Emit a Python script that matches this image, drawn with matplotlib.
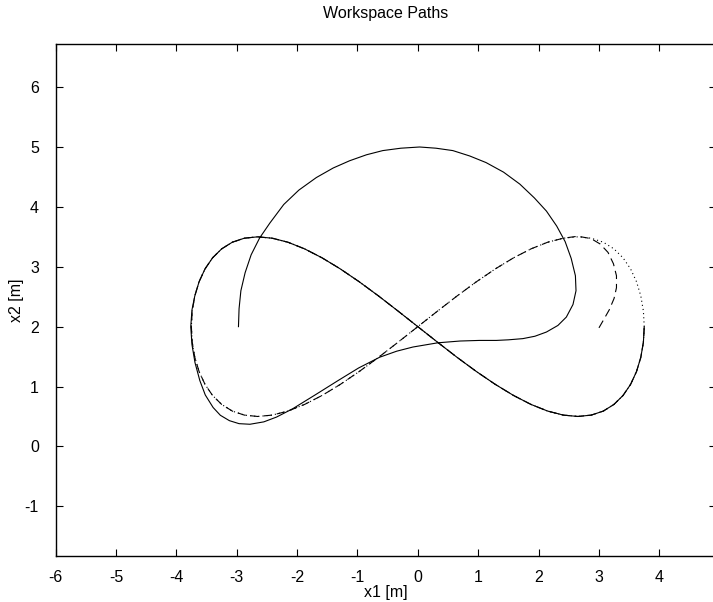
import matplotlib
matplotlib.use('Agg')
from matplotlib import pyplot as plt

# desired figure-eight path (dotted)
ref_x = [3.750, 3.736, 3.693, 3.622, 3.524, 3.399, 3.248, 3.072, 2.873, 2.652,
         2.410, 2.151, 1.875, 1.585, 1.283, 0.971, 0.651, 0.327, 0.000,
         -0.327, -0.651, -0.971, -1.283, -1.585, -1.875, -2.151, -2.410, -2.652,
         -2.873, -3.072, -3.248, -3.399, -3.524, -3.622, -3.693, -3.736, -3.750,
         -3.736, -3.693, -3.622, -3.524, -3.399, -3.248, -3.072, -2.873, -2.652,
         -2.410, -2.151, -1.875, -1.585, -1.283, -0.971, -0.651, -0.327, 0.000,
         0.327, 0.651, 0.971, 1.283, 1.585, 1.875, 2.151, 2.410, 2.652,
         2.873, 3.072, 3.248, 3.399, 3.524, 3.622, 3.693, 3.736, 3.750]
ref_y = [2.000, 2.260, 2.513, 2.750, 2.964, 3.149, 3.299, 3.410, 3.477, 3.500,
         3.477, 3.410, 3.299, 3.149, 2.964, 2.750, 2.513, 2.260, 2.000,
         1.740, 1.487, 1.250, 1.036, 0.851, 0.701, 0.590, 0.523, 0.500,
         0.523, 0.590, 0.701, 0.851, 1.036, 1.250, 1.487, 1.740, 2.000,
         2.260, 2.513, 2.750, 2.964, 3.149, 3.299, 3.410, 3.477, 3.500,
         3.477, 3.410, 3.299, 3.149, 2.964, 2.750, 2.513, 2.260, 2.000,
         1.740, 1.487, 1.250, 1.036, 0.851, 0.701, 0.590, 0.523, 0.500,
         0.523, 0.590, 0.701, 0.851, 1.036, 1.250, 1.487, 1.740, 2.000]

# dashed path: starts at (3, 2), joins the eight near the top-right lobe
dash_x = [3.00, 3.08, 3.17, 3.25, 3.29, 3.29, 3.24, 3.15, 3.02, 2.87, 2.65] + ref_x[10:]
dash_y = [1.98, 2.12, 2.28, 2.47, 2.65, 2.85, 3.05, 3.24, 3.38, 3.47, 3.51] + ref_y[10:]

# solid path: starts at (-3, 2), big loop, settles onto the eight on the left
solid_x = [-2.97, -2.96, -2.93, -2.86, -2.76, -2.62, -2.45, -2.22, -1.97, -1.68,
           -1.40, -1.13, -0.85, -0.58, -0.28, 0.03, 0.30, 0.58, 0.86, 1.13,
           1.42, 1.69, 1.93, 2.13, 2.30, 2.44, 2.54, 2.61, 2.62, 2.57,
           2.46, 2.32, 2.13, 1.94, 1.74, 1.50, 1.30, 1.02, 0.70, 0.33,
           -0.08, -0.35, -0.63, -0.98, -1.32, -1.70, -2.07, -2.34, -2.55, -2.78,
           -2.96, -3.12, -3.27, -3.39, -3.52, -3.61, -3.69, -3.74, -3.76, -3.74] + ref_x[38:]
solid_y = [2.00, 2.30, 2.60, 2.90, 3.20, 3.48, 3.73, 4.04, 4.28, 4.49,
           4.65, 4.77, 4.87, 4.94, 4.98, 5.00, 4.98, 4.94, 4.85, 4.74,
           4.58, 4.38, 4.15, 3.93, 3.68, 3.42, 3.14, 2.85, 2.60, 2.37,
           2.16, 2.02, 1.91, 1.84, 1.80, 1.78, 1.77, 1.77, 1.76, 1.73,
           1.66, 1.59, 1.49, 1.31, 1.10, 0.86, 0.63, 0.49, 0.41, 0.37,
           0.38, 0.43, 0.52, 0.65, 0.86, 1.10, 1.40, 1.70, 2.00, 2.28] + ref_y[38:]

x_ticks = [-6, -5, -4, -3, -2, -1, 0, 1, 2, 3, 4]
y_ticks = [-1, 0, 1, 2, 3, 4, 5, 6]

plt.rcParams['font.family'] = ['Liberation Sans', 'DejaVu Sans']
plt.rcParams['lines.scale_dashes'] = False
plt.rcParams['axes.unicode_minus'] = False

fig = plt.figure(figsize=(7.13, 6.02), dpi=100)
ax = fig.add_axes([55.5 / 713, 46 / 602, 660 / 713, 512 / 602])

ax.plot(ref_x, ref_y, color='black', lw=0.8, linestyle=(0, (0.8, 2.2)))
ax.plot(dash_x, dash_y, color='black', lw=0.8, linestyle=(0, (6, 3.5)))
ax.plot(solid_x, solid_y, color='black', lw=0.8)

ax.set_xlim(-6, 4.93)
ax.set_ylim(-1.83, 6.72)
ax.set_xticks(x_ticks)
ax.set_yticks(y_ticks)
ax.tick_params(direction='in', top=True, right=True, length=5, width=0.8,
               labelsize=11.5)
ax.tick_params(axis='x', pad=10)
ax.tick_params(axis='y', pad=12)
for s in ax.spines.values():
    s.set_linewidth(1.0)

ax.set_title('Workspace Paths', fontsize=11.5, pad=19)
ax.set_xlabel('x1 [m]', fontsize=11.5, labelpad=0)
ax.set_ylabel('x2 [m]', fontsize=11.5)
ax.yaxis.set_label_coords(-0.048, 0.5)

fig.savefig('out.png', dpi=100)
